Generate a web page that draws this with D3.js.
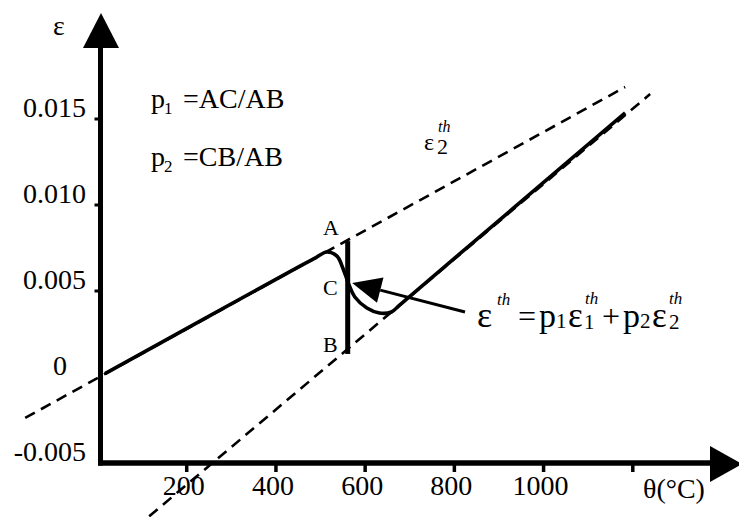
<!DOCTYPE html>
<html>
<head>
<meta charset="utf-8">
<script src="https://cdn.jsdelivr.net/npm/d3@7"></script>
<style>
  body { margin: 0; background: #fff; }
  svg { display: block; }
  text { font-family: "Liberation Serif", "Times New Roman", serif; fill: #000; }
</style>
</head>
<body>
<svg width="739" height="517"></svg>
<script>
// axis ticks
var thetaTicks = [200, 400, 600, 800, 1000, 1200];
var thetaLabels = ["200", "400", "600", "800", "1000", ""];
var epsTicks = [0.015, 0.010, 0.005, 0, -0.005];
var epsLabels = ["0.015", "0.010", "0.005", "0", "-0.005"];

// dashed lines eps1 / eps2
var upperTheta = [-161, 1184];
var upperEps = [-0.00238, 0.01686];
var lowerTheta = [117, 1240];
var lowerEps = [-0.0081, 0.01645];

// mixed thermal strain curve
var curveTheta = [18, 455, 490, 515, 538, 551, 565, 578, 605, 633, 660, 679, 1184];
var curveEps = [0.0002, 0.00645, 0.00693, 0.00727, 0.00703, 0.00634, 0.00535, 0.00465, 0.00401, 0.00372, 0.00378, 0.0042, 0.01535];

// segment A-B
var barTheta = 562;
var barEps = [0.0079, 0.00134];

// arrow pointing at C
var arrowTail = [825, 0.00378];
var arrowTip = [572, 0.00547];

var svg = d3.select("svg");

var x = d3.scaleLinear().domain([0, 1200]).range([97, 632.3]);
var y = d3.scaleLinear().domain([-0.005, 0.015]).range([463, 119]);

var axisX = 100.5,
    axisY = y(-0.005);

function pts(th, ep) {
    return th.map(function(t, i) { return [x(t), y(ep[i])]; });
}

// dashed lines
var straight = d3.line();
[[upperTheta, upperEps], [lowerTheta, lowerEps]].forEach(function(s) {
    svg.append("path")
        .attr("d", straight(pts(s[0], s[1])))
        .attr("fill", "none")
        .attr("stroke", "#000")
        .attr("stroke-width", 2.6)
        .attr("stroke-dasharray", "11,7");
});

// solid curve
svg.append("path")
    .attr("d", d3.line().curve(d3.curveCatmullRom.alpha(0.5))(pts(curveTheta, curveEps)))
    .attr("fill", "none")
    .attr("stroke", "#000")
    .attr("stroke-width", 3.6)
    .attr("stroke-linejoin", "round");

// A-B bar
svg.append("line")
    .attr("x1", x(barTheta)).attr("x2", x(barTheta))
    .attr("y1", y(barEps[0])).attr("y2", y(barEps[1]))
    .attr("stroke", "#000")
    .attr("stroke-width", 5);

// arrow
var tx = x(arrowTail[0]), ty = y(arrowTail[1]),
    hx = x(arrowTip[0]), hy = y(arrowTip[1]);
var ang = Math.atan2(hy - ty, hx - tx),
    headLen = 29, headHalf = 13;
var bx = hx - headLen * Math.cos(ang), by = hy - headLen * Math.sin(ang);
svg.append("line")
    .attr("x1", tx).attr("y1", ty)
    .attr("x2", bx).attr("y2", by)
    .attr("stroke", "#000")
    .attr("stroke-width", 3);
svg.append("path")
    .attr("d", "M" + hx + "," + hy +
        "L" + (bx + headHalf * Math.sin(ang)) + "," + (by - headHalf * Math.cos(ang)) +
        "L" + (bx - headHalf * Math.sin(ang)) + "," + (by + headHalf * Math.cos(ang)) + "Z")
    .attr("fill", "#000");

// axes
svg.append("line")
    .attr("x1", axisX).attr("x2", axisX)
    .attr("y1", axisY + 2.5).attr("y2", 45)
    .attr("stroke", "#000").attr("stroke-width", 5);
svg.append("path")
    .attr("d", "M" + (axisX + 0.5) + ",13L" + (axisX + 18.5) + ",48L" + (axisX - 17.5) + ",48Z")
    .attr("fill", "#000");
svg.append("line")
    .attr("x1", axisX - 2.5).attr("x2", 712)
    .attr("y1", axisY).attr("y2", axisY)
    .attr("stroke", "#000").attr("stroke-width", 5.5);
svg.append("path")
    .attr("d", "M742," + (axisY + 1) + "L710," + (axisY - 17) + "L710," + (axisY + 19) + "Z")
    .attr("fill", "#000");

// x ticks
var gx = svg.append("g")
    .attr("transform", "translate(0," + (axisY + 2) + ")")
    .call(d3.axisBottom(x).tickValues(thetaTicks).tickSize(7)
        .tickFormat(function(d, i) { return thetaLabels[i]; }));
gx.select(".domain").remove();
gx.selectAll(".tick line").attr("stroke", "#000").attr("stroke-width", 3.5);
gx.selectAll(".tick text")
    .attr("y", 30).attr("dy", 0).attr("dx", -3)
    .attr("font-size", 28)
    .style("font-family", '"Liberation Serif", "Times New Roman", serif')
    .attr("fill", "#000");

// y ticks
var gy = svg.append("g");
gy.selectAll("line")
    .data(epsTicks.filter(function(d) { return d > 0; }))
    .enter().append("line")
    .attr("x1", axisX - 6).attr("x2", axisX)
    .attr("y1", function(d) { return y(d); })
    .attr("y2", function(d) { return y(d); })
    .attr("stroke", "#000").attr("stroke-width", 3);
gy.selectAll("text")
    .data(epsTicks)
    .enter().append("text")
    .attr("x", function(d) { return d === 0 ? 67 : 86; })
    .attr("y", function(d) { return y(d) - 2; })
    .attr("text-anchor", "end")
    .attr("font-size", 28)
    .text(function(d, i) { return epsLabels[i]; });

// axis titles
svg.append("text").attr("x", 53).attr("y", 35).attr("font-size", 28).text("ε");
svg.append("text").attr("x", 643).attr("y", 498).attr("font-size", 28).text("θ(°C)");

// p1, p2 definitions
function pDef(yb, sub, rest) {
    var t = svg.append("text").attr("y", yb).attr("font-size", 28);
    t.append("tspan").attr("x", 151).text("p");
    t.append("tspan").attr("x", 164).attr("dy", 6).attr("font-size", 17).text(sub);
    t.append("tspan").attr("x", 183).attr("dy", -6).text("=" + rest);
}
pDef(108, "1", "AC/AB");
pDef(166, "2", "CB/AB");

// A, B, C labels
[["A", 235], ["C", 295], ["B", 352]].forEach(function(l) {
    svg.append("text").attr("x", 323).attr("y", l[1]).attr("font-size", 22).text(l[0]);
});

// pieces of a math label in one text element
function mathText(parts) {
    var t = svg.append("text");
    parts.forEach(function(p) {
        t.append("tspan")
            .attr("x", p[1]).attr("y", p[2])
            .attr("font-size", p[3])
            .attr("font-style", p[4] ? "italic" : null)
            .text(p[0]);
    });
}

// eps2 label
mathText([
    ["ε", 424, 150, 24],
    ["th", 438, 132, 16, true],
    ["2", 437, 154, 22]
]);

// formula
mathText([
    ["ε", 477, 327, 36],
    ["th", 497, 305, 17, true],
    ["=", 518, 327, 32],
    ["p", 539, 327, 34],
    ["1", 556, 328, 21],
    ["ε", 568, 327, 35],
    ["th", 585, 304, 17, true],
    ["1", 584, 329, 21],
    ["+", 602, 327, 32],
    ["p", 623, 327, 34],
    ["2", 640, 328, 21],
    ["ε", 652, 327, 35],
    ["th", 669, 304, 17, true],
    ["2", 669, 329, 21]
]);
</script>
</body>
</html>
